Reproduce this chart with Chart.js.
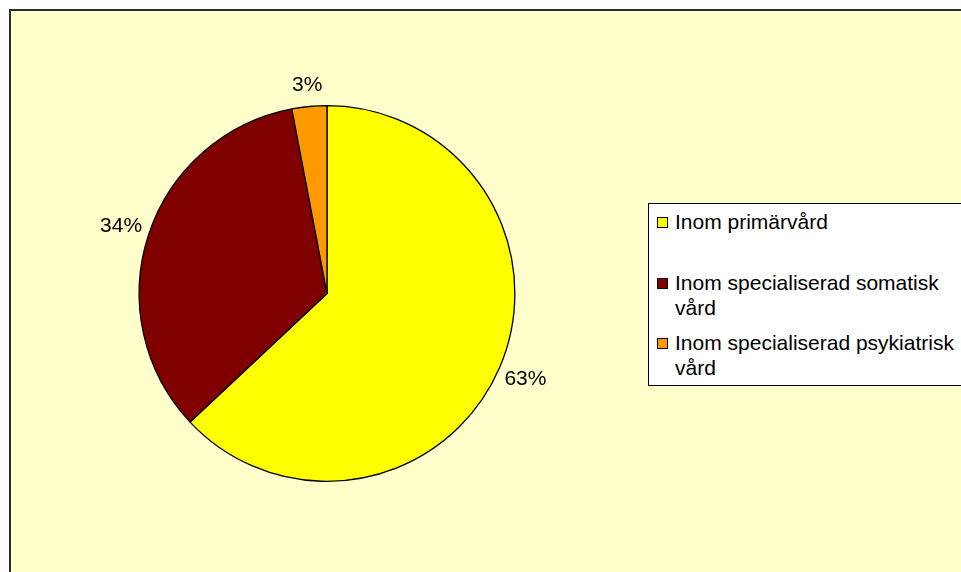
<!DOCTYPE html>
<html>
<head>
<meta charset="utf-8">
<script src="https://cdn.jsdelivr.net/npm/chart.js@4"></script>
<style>
  html, body { margin: 0; padding: 0; background: #fff; }
  body { width: 961px; height: 572px; overflow: hidden; position: relative;
         font-family: Arial, "Liberation Sans", sans-serif; }
  #frame { position: absolute; left: 9px; top: 9px; width: 1000px; height: 600px;
           background: #FFFFCC; border-left: 2px solid #2b2b2b; border-top: 2px solid #2b2b2b; }
  #pie { position: absolute; left: 0; top: 0; }
  #legend { position: absolute; left: 648px; top: 203px; width: 330px; height: 181px;
            background: #fff; border: 1px solid #000; font-size: 21px; line-height: 25px; color: #000; }
  .item { position: absolute; left: 26px; }
  .item i { position: absolute; left: -18px; top: 8px; width: 9px; height: 9px; border: 1px solid #000; }
</style>
</head>
<body>
<div id="frame"></div>
<canvas id="pie" width="961" height="572"></canvas>
<div id="legend"></div>
<script>
/* ================= DATA ================= */
const categories = ["Inom primärvård", "Inom specialiserad somatisk vård", "Inom specialiserad psykiatrisk vård"];
const legendLines = [["Inom primärvård"], ["Inom specialiserad somatisk", "vård"], ["Inom specialiserad psykiatrisk", "vård"]];
const shares = [63, 34, 3];
const colors = ["#FFFF00", "#800000", "#FF9900"];

/* ================= LABELS ================= */
const pctLabels = {
  id: "pctLabels",
  afterDatasetsDraw(chart) {
    const ctx = chart.ctx;
    ctx.save();
    ctx.font = "21px Arial, 'Liberation Sans', sans-serif";
    ctx.fillStyle = "#000";
    ctx.textAlign = "center";
    ctx.textBaseline = "middle";
    chart.getDatasetMeta(0).data.forEach((arc, i) => {
      const { x, y, startAngle, endAngle, outerRadius } = arc.getProps(["x", "y", "startAngle", "endAngle", "outerRadius"], true);
      const mid = (startAngle + endAngle) / 2;
      // wider gap sideways, where the text is long
      const r = outerRadius + 21 + 8 * Math.abs(Math.cos(mid));
      ctx.fillText(shares[i] + "%", x + Math.cos(mid) * r, y + Math.sin(mid) * r);
    });
    ctx.restore();
  }
};

/* ================= CHART ================= */
new Chart(document.getElementById("pie"), {
  type: "pie",
  data: {
    labels: categories,
    datasets: [{
      data: shares,
      backgroundColor: colors,
      borderColor: "#000",
      borderWidth: 1.3
    }]
  },
  options: {
    responsive: false,
    animation: false,
    layout: { padding: { left: 138.5, right: 445.5, top: 105, bottom: 90 } },
    plugins: { legend: { display: false }, tooltip: { enabled: false } }
  },
  plugins: [pctLabels]
});

/* ================= LEGEND ================= */
const legend = document.getElementById("legend");
const itemTops = [5, 66, 126];
legendLines.forEach((lines, i) => {
  const item = document.createElement("div");
  item.className = "item";
  item.style.top = itemTops[i] + "px";
  const box = document.createElement("i");
  box.style.background = colors[i];
  item.appendChild(box);
  lines.forEach(t => {
    const line = document.createElement("div");
    line.textContent = t;
    item.appendChild(line);
  });
  legend.appendChild(item);
});
</script>
</body>
</html>
